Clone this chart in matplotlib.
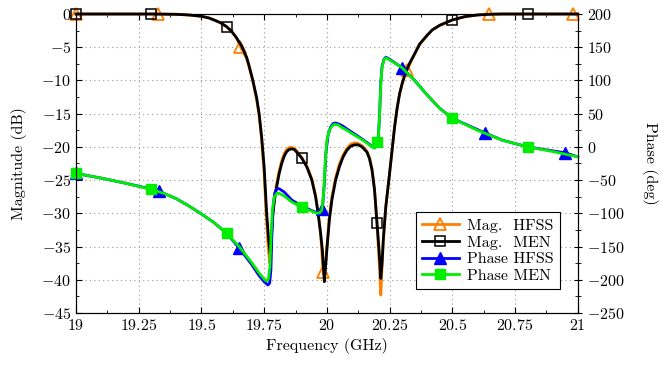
import numpy as np
import matplotlib
matplotlib.use('Agg')
import matplotlib.pyplot as plt
from matplotlib.ticker import MultipleLocator, FuncFormatter

plt.rcParams['font.family'] = 'cmr10'
plt.rcParams['mathtext.fontset'] = 'cm'
plt.rcParams['axes.formatter.use_mathtext'] = True

# magnitude, MEN (black)
mag_men_f = [19.0, 19.1, 19.2, 19.3, 19.4, 19.45, 19.5, 19.53, 19.55, 19.575, 19.6, 19.62,
             19.64, 19.66, 19.68, 19.69, 19.705, 19.72, 19.73, 19.74, 19.75, 19.76, 19.768,
             19.775, 19.78, 19.785, 19.792, 19.8, 19.81, 19.82, 19.83, 19.84, 19.85, 19.86,
             19.87, 19.88, 19.9, 19.92, 19.94, 19.955, 19.965, 19.975, 19.982, 19.99, 19.995,
             20.0, 20.01, 20.02, 20.035, 20.05, 20.065, 20.08, 20.095, 20.11, 20.125, 20.14,
             20.15, 20.16, 20.17, 20.18, 20.19, 20.2, 20.208, 20.215, 20.22, 20.225, 20.235,
             20.25, 20.26, 20.27, 20.28, 20.29, 20.3, 20.31, 20.33, 20.35, 20.37, 20.4, 20.42,
             20.45, 20.5, 20.55, 20.6, 20.65, 20.7, 20.8, 20.9, 21.0]
mag_men_db = [0, 0, 0, 0, -0.05, -0.15, -0.35, -0.6, -0.9, -1.3, -1.9, -2.6,
              -3.6, -4.8, -6.5, -7.8, -10, -12.6, -15, -18.5, -23, -30, -34,
              -36.5, -33, -30, -27.8, -26, -24, -22.5, -21.4, -20.7, -20.4, -20.3,
              -20.4, -20.8, -21.7, -23, -25, -27.5, -30, -33, -35.5, -40.3, -38,
              -35.5, -31, -28, -25, -23, -21.5, -20.5, -19.9, -19.7, -19.7, -20,
              -20.4, -20.8, -21.8, -23.5, -26.5, -31.5, -35.5, -39.8, -37.5, -34, -29,
              -24, -20.5, -17, -14.2, -12, -10.5, -9.2, -7.4, -6, -4.5, -3.2, -2.4,
              -1.7, -0.9, -0.4, -0.15, -0.05, 0, 0, 0, 0]
men_marks = [19.0, 19.3, 19.6, 19.9, 20.2, 20.5, 20.8]

# magnitude, HFSS (orange)
mag_hfss_f = [19.0, 19.1, 19.2, 19.325, 19.4, 19.45, 19.5, 19.53, 19.55, 19.575, 19.6, 19.62,
              19.64, 19.655, 19.68, 19.69, 19.705, 19.72, 19.73, 19.74, 19.75, 19.758, 19.765,
              19.772, 19.778, 19.785, 19.792, 19.8, 19.81, 19.82, 19.83, 19.84, 19.85, 19.86,
              19.87, 19.88, 19.9, 19.92, 19.94, 19.955, 19.965, 19.975, 19.985, 19.99, 19.995,
              20.0, 20.01, 20.02, 20.035, 20.05, 20.065, 20.08, 20.095, 20.11, 20.125, 20.14,
              20.15, 20.16, 20.17, 20.18, 20.19, 20.2, 20.208, 20.215, 20.22, 20.225, 20.235,
              20.25, 20.26, 20.27, 20.28, 20.29, 20.3, 20.32, 20.35, 20.37, 20.4, 20.42,
              20.45, 20.5, 20.55, 20.6, 20.645, 20.7, 20.8, 20.9, 20.98, 21.0]
mag_hfss_db = [0, 0, 0, 0, -0.05, -0.15, -0.35, -0.6, -0.9, -1.3, -1.9, -2.6,
               -3.6, -4.9, -6.7, -8, -10.2, -12.9, -15.3, -19, -24, -30, -34.5,
               -37.5, -33, -29.5, -27.4, -25.5, -23.6, -22.1, -21, -20.4, -20.1, -20.1,
               -20.2, -20.6, -21.6, -22.9, -24.8, -27.3, -29.8, -33, -38.9, -39.5, -37.5,
               -35, -30.5, -27.5, -24.6, -22.6, -21.2, -20.2, -19.6, -19.4, -19.5, -19.8,
               -20.2, -20.7, -21.6, -23.3, -26.3, -31.8, -37, -42.3, -38, -34, -29,
               -24, -20.5, -17, -14.2, -12, -10.5, -8.4, -6, -4.6, -3.2, -2.4,
               -1.7, -0.9, -0.4, -0.15, 0, 0, 0, 0, 0, 0]
hfss_marks = [19.0, 19.325, 19.655, 19.985, 20.32, 20.645, 20.98]

# phase, MEN (green)
ph_men_f = [19.0, 19.1, 19.2, 19.3, 19.35, 19.4, 19.45, 19.5, 19.55, 19.6, 19.65, 19.7,
            19.73, 19.75, 19.76, 19.767, 19.773, 19.778, 19.783, 19.79, 19.8, 19.81, 19.83,
            19.86, 19.9, 19.94, 19.96, 19.972, 19.98, 19.987, 19.993, 20.0, 20.01, 20.02,
            20.03, 20.045, 20.06, 20.08, 20.1, 20.14, 20.18, 20.19, 20.2, 20.205, 20.21,
            20.215, 20.22, 20.228, 20.235, 20.25, 20.3, 20.35, 20.4, 20.45, 20.5, 20.6, 20.7,
            20.8, 20.9, 21.0]
ph_men_deg = [-40, -47, -55, -64, -70, -78, -89, -101, -114, -130, -150, -174,
              -190, -199, -202, -199, -180, -130, -95, -76, -70, -70, -74,
              -83, -91, -97, -100, -99, -95, -70, -25, 10, 25, 31,
              34, 33, 29, 25, 20, 11, 0, -2, 7, 12, 45,
              95, 120, 131, 134, 131, 119, 100, 78, 58, 43, 25, 10,
              0, -7, -15]

# phase, HFSS (blue)
ph_hfss_f = [19.0, 19.1, 19.2, 19.33, 19.35, 19.4, 19.45, 19.5, 19.55, 19.6, 19.65, 19.7,
             19.73, 19.75, 19.765, 19.772, 19.777, 19.781, 19.786, 19.792, 19.8, 19.81, 19.83,
             19.86, 19.9, 19.94, 19.96, 19.98, 19.984, 19.99, 19.996, 20.005, 20.015, 20.025,
             20.035, 20.05, 20.065, 20.08, 20.1, 20.14, 20.18, 20.19, 20.2, 20.205, 20.21,
             20.215, 20.22, 20.228, 20.235, 20.25, 20.3, 20.35, 20.4, 20.45, 20.5, 20.63,
             20.7, 20.8, 20.95, 21.0]
ph_hfss_deg = [-40, -47, -55, -66, -70, -78, -89, -101, -114, -130, -152, -177,
               -194, -203, -208, -205, -185, -130, -90, -70, -63, -63, -68,
               -80, -89, -96, -99, -94, -85, -55, -10, 18, 30, 35,
               36, 34, 31, 27, 22, 12, 1, -1, 8, 13, 47,
               97, 121, 132, 135, 132, 119, 100, 78, 58, 43, 21,
               10, 0, -9, -15]
ph_hfss_marks = [19.0, 19.33, 19.65, 19.98, 20.3, 20.63, 20.95]


def mark_idx(f, marks):
    f = np.asarray(f)
    return [int(np.argmin(np.abs(f - m))) for m in marks]


orange = '#ff7f00'
blue = '#0000ff'
green = '#00ee00'

fig = plt.figure(figsize=(6.61, 3.73), dpi=100)
ax = fig.add_axes([0.115, 0.161, 0.759, 0.8015])
ax2 = ax.twinx()

l1, = ax.plot(mag_hfss_f, mag_hfss_db, color=orange, lw=2, marker='^', ms=8, mfc='none',
              mec=orange, mew=1.3, markevery=mark_idx(mag_hfss_f, hfss_marks),
              clip_on=False, label='Mag.  HFSS')
l2, = ax.plot(mag_men_f, mag_men_db, color='black', lw=2, marker='s', ms=7.5, mfc='none',
              mec='black', mew=1.1, markevery=mark_idx(mag_men_f, men_marks),
              clip_on=False, label='Mag.  MEN')
l3, = ax2.plot(ph_hfss_f, ph_hfss_deg, color=blue, lw=2, marker='^', ms=8,
               markevery=mark_idx(ph_hfss_f, ph_hfss_marks), clip_on=False, label='Phase HFSS')
l4, = ax2.plot(ph_men_f, ph_men_deg, color=green, lw=2, marker='s', ms=7.5,
               markevery=mark_idx(ph_men_f, men_marks), clip_on=False, label='Phase MEN')

ax.set_xlim(19, 21)
ax.set_ylim(-45, 0)
ax2.set_ylim(-250, 200)

fmt = FuncFormatter(lambda v, p: '$%g$' % v)
ax.xaxis.set_major_locator(MultipleLocator(0.25))
ax.xaxis.set_minor_locator(MultipleLocator(0.125))
ax.yaxis.set_major_locator(MultipleLocator(5))
ax.yaxis.set_minor_locator(MultipleLocator(2.5))
ax2.yaxis.set_major_locator(MultipleLocator(50))
ax2.yaxis.set_minor_locator(MultipleLocator(25))
ax.xaxis.set_major_formatter(fmt)
ax.yaxis.set_major_formatter(fmt)
ax2.yaxis.set_major_formatter(fmt)

ax.tick_params(which='both', direction='in', top=True, right=False, labelsize=11.5)
ax.tick_params(which='major', length=4)
ax.tick_params(which='minor', length=2.5)
ax2.tick_params(which='both', direction='inout', labelsize=11.5)
ax2.tick_params(which='major', length=6)
ax2.tick_params(which='minor', length=4)

ax.grid(True, which='major', linestyle=(0, (1, 3)), color='#999999', lw=0.8)

ax.set_xlabel('Frequency (GHz)', fontsize=11.5)
ax.set_ylabel('Magnitude (dB)', fontsize=11.5, labelpad=10)
ax2.set_ylabel('Phase (deg)', fontsize=11.5, rotation=270, labelpad=24)

leg = ax2.legend(handles=[l1, l2, l3, l4], loc='lower right', bbox_to_anchor=(0.98, 0.053),
                 fontsize=11.5, frameon=True, fancybox=False, framealpha=1, edgecolor='black',
                 handlelength=2.3, labelspacing=0.15, borderpad=0.4, handletextpad=0.5)
leg.get_frame().set_linewidth(0.8)

fig.savefig('out.png', dpi=100)
